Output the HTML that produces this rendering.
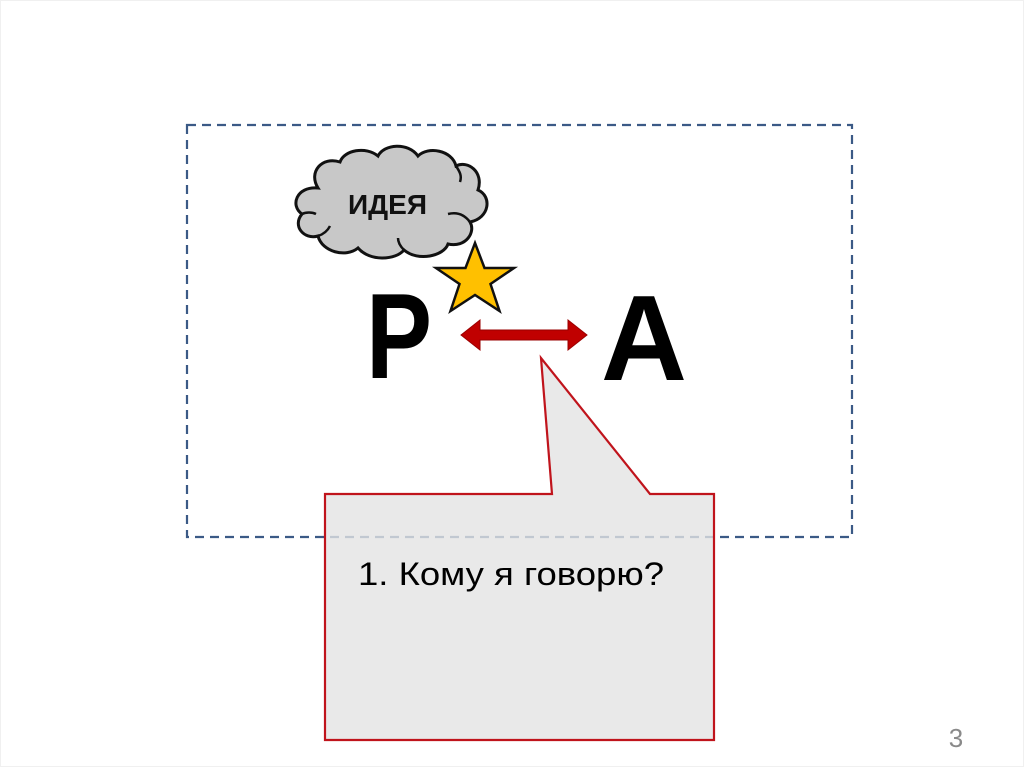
<!DOCTYPE html>
<html><head><meta charset="utf-8"><style>
html,body{margin:0;padding:0;background:#fff;}
svg{display:block;}
</style></head><body>
<svg width="1024" height="767" viewBox="0 0 1024 767" xmlns="http://www.w3.org/2000/svg">
<rect x="0.5" y="0.5" width="1023" height="766" fill="#fff" stroke="#f0f0f0"/>
<rect x="187" y="125" width="665" height="412" fill="none" stroke="#3b5a86" stroke-width="2.2" stroke-dasharray="9,6"/>
<!-- cloud -->
<path d="M318,188 C296,186 290,206 302,214 C292,226 304,240 318,236 C322,252 346,258 358,248 C370,262 396,260 404,250 C418,262 444,256 448,244 C466,248 476,232 470,222 C490,218 492,196 478,190 C484,172 468,160 456,166 C452,150 428,146 418,156 C408,142 384,144 378,156 C366,146 344,150 340,162 C322,156 308,172 318,188 Z" fill="#c8c8c8" stroke="#111" stroke-width="3"/>
<path d="M456,166 C460,172 462,176 460,182 M470,222 C464,214 456,212 448,214 M404,250 C400,246 398,242 398,238 M318,236 C324,234 328,230 330,226 M302,214 C306,212 312,212 316,214" fill="none" stroke="#111" stroke-width="2.5"/>
<text x="348" y="214" font-family="Liberation Sans, sans-serif" font-weight="bold" font-size="28" fill="#111" textLength="79" lengthAdjust="spacingAndGlyphs">ИДЕЯ</text>
<!-- P and A -->
<text x="366" y="378" font-family="Liberation Sans, sans-serif" font-weight="bold" font-size="122" fill="#000" textLength="66" lengthAdjust="spacingAndGlyphs">P</text>
<text x="601" y="380" font-family="Liberation Sans, sans-serif" font-weight="bold" font-size="122" fill="#000" textLength="86" lengthAdjust="spacingAndGlyphs">A</text>
<!-- star -->
<polygon points="475,243 484.5,268 514,268 490.5,284 499.5,311 475,295 450.5,311 459.5,284 436,268 465.5,268" fill="#ffc000" stroke="#111" stroke-width="2.5" stroke-linejoin="miter"/>
<!-- arrow -->
<polygon points="461,335 480,320 480,330 568,330 568,320 587,335 568,350 568,340 480,340 480,350" fill="#c00000" stroke="#9a0000" stroke-width="1"/>
<!-- callout -->
<path d="M325,494 L552,494 L541,358 L650,494 L714,494 L714,740 L325,740 Z" fill="#e4e4e4" fill-opacity="0.8" stroke="#c0141c" stroke-width="2.2"/>
<text x="358" y="585" font-family="Liberation Sans, sans-serif" font-size="32" fill="#000" textLength="306" lengthAdjust="spacingAndGlyphs">1. Кому я говорю?</text>
<text x="956" y="747" font-family="Liberation Sans, sans-serif" font-size="26" fill="#8a8a8a" text-anchor="middle">3</text>
</svg>
</body></html>
